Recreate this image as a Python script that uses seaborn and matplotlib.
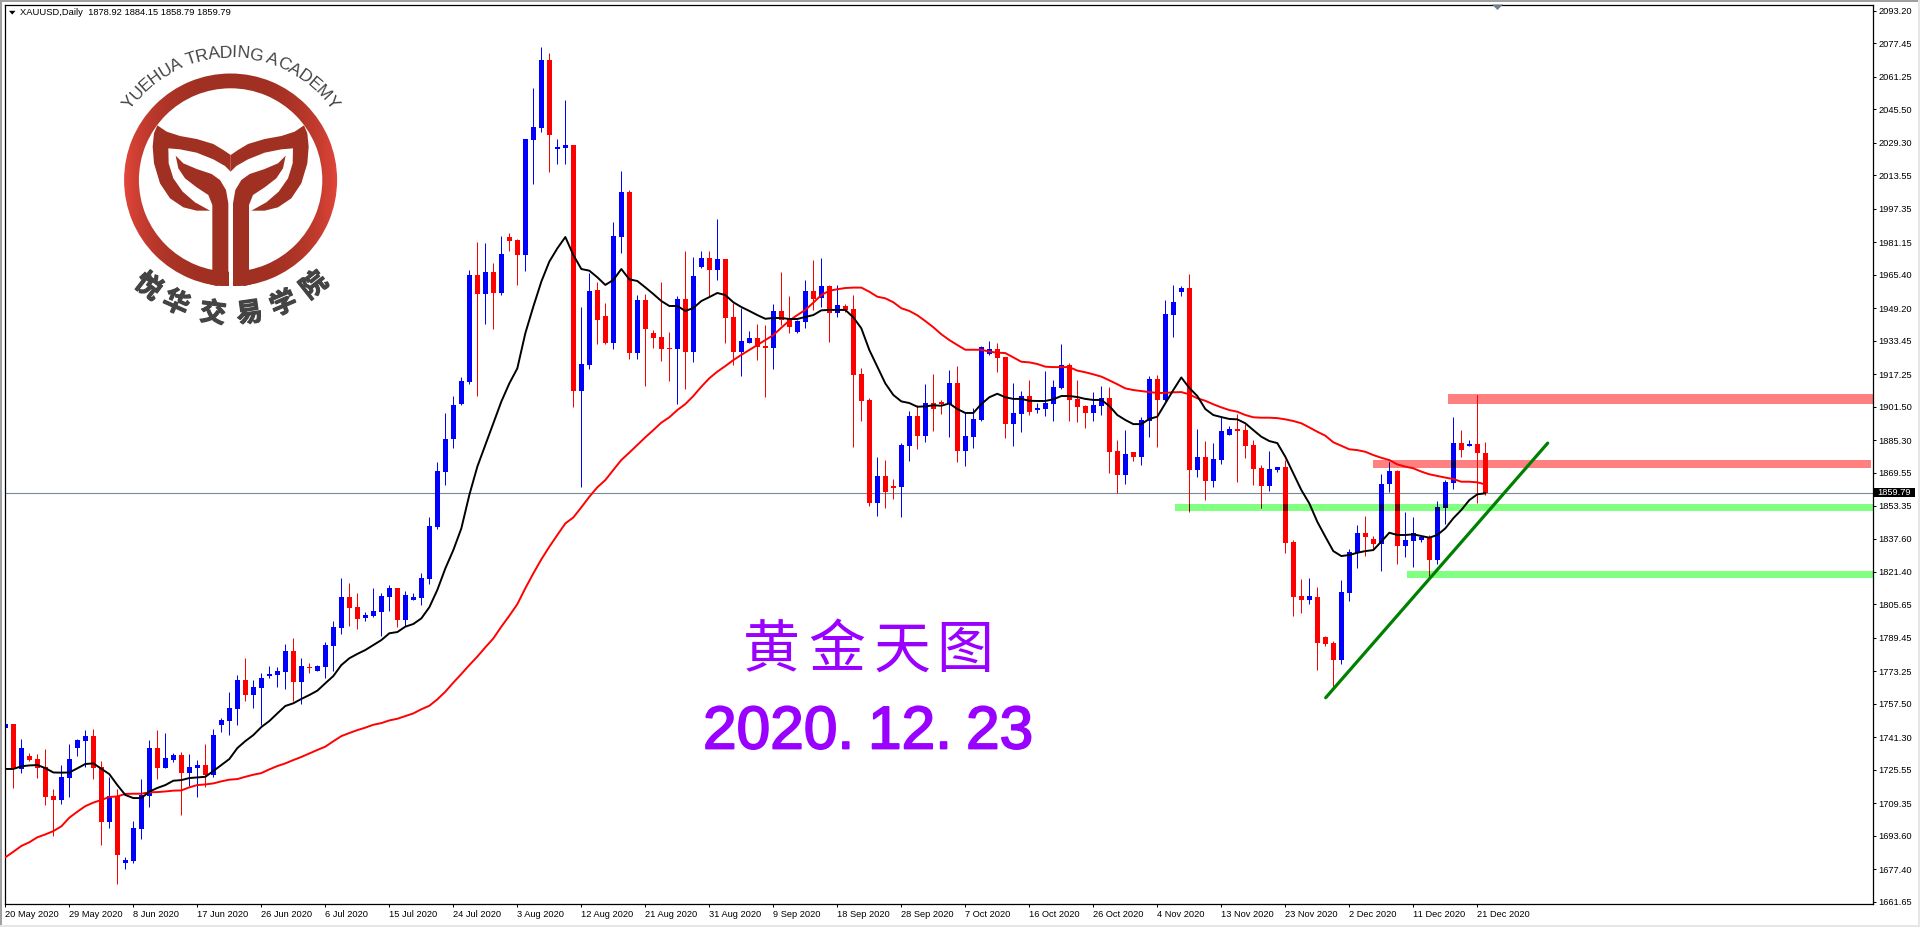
import numpy as np
import pandas as pd
import matplotlib
matplotlib.use("Agg")
import matplotlib.pyplot as plt
import matplotlib.patches as mpatches
import matplotlib.patheffects as pe
from matplotlib.colors import LinearSegmentedColormap
from matplotlib.font_manager import FontProperties
from matplotlib.textpath import text_to_path
import seaborn as sns

opens = [
    1746.0,1747.8,1726.0,1732.3,1730.8,1726.9,1712.9,1711.0,1721.6,1736.1,
    1739.5,1741.9,1726.9,1700.3,1712.9,1680.4,1681.4,1696.9,1712.9,1736.1,
    1726.4,1730.3,1732.7,1724.0,1726.4,1727.9,1723.1,1747.3,1749.2,1755.0,
    1769.1,1761.8,1765.2,1771.0,1771.5,1772.9,1783.1,1768.1,1775.4,1773.4,
    1775.4,1785.5,1794.2,1809.3,1804.4,1799.1,1800.1,1802.0,1809.3,1813.6,
    1798.1,1807.8,1808.8,1818.0,1843.2,1869.8,1885.8,1902.7,1913.2,1965.2,
    1956.0,1966.7,1956.5,1983.6,1982.2,1974.9,2030.6,2036.4,2069.3,2026.4,
    2026.7,2028.2,1909.0,1921.6,1957.9,1945.3,1932.3,1983.6,2005.4,1927.4,
    1953.1,1937.1,1935.2,1929.8,1929.4,1953.6,1927.9,1969.1,1973.4,1967.6,
    1972.9,1944.9,1927.9,1932.3,1934.7,1930.8,1929.8,1947.8,1943.9,1937.6,
    1942.4,1957.5,1954.1,1959.9,1946.8,1950.2,1948.7,1917.3,1904.7,1854.8,
    1867.9,1863.0,1862.5,1882.4,1896.9,1887.2,1903.2,1903.7,1902.7,1912.9,
    1880.0,1886.7,1895.0,1926.9,1929.4,1925.5,1893.0,1897.9,1906.6,1899.8,
    1900.3,1902.7,1910.5,1921.6,1905.2,1901.8,1898.4,1901.8,1905.6,1880.0,
    1868.3,1879.5,1877.1,1894.5,1914.8,1904.7,1945.8,1957.0,1958.9,1870.8,
    1877.1,1865.4,1875.6,1887.7,1890.6,1890.1,1882.9,1871.7,1863.0,1870.8,
    1872.2,1835.9,1809.7,1807.8,1809.3,1789.9,1787.0,1778.7,1811.2,1830.6,
    1840.3,1837.3,1834.9,1864.0,1870.3,1834.0,1836.4,1836.9,1837.8,1827.2,
    1852.4,1864.5,1883.8,1882.4,1883.3,1878.92,
]
highs = [
    1754.0,1747.8,1740.5,1733.7,1733.2,1735.6,1716.3,1727.9,1738.1,1740.5,
    1744.8,1745.3,1729.8,1722.1,1716.3,1683.3,1700.8,1721.1,1740.0,1744.8,
    1743.4,1733.7,1734.2,1733.2,1730.3,1738.1,1745.3,1750.7,1763.3,1771.5,
    1779.7,1769.1,1772.5,1775.8,1775.4,1786.5,1789.4,1779.7,1777.3,1776.3,
    1787.5,1797.6,1818.5,1816.0,1811.2,1802.0,1813.6,1811.2,1815.1,1813.6,
    1812.2,1811.2,1820.9,1848.0,1874.6,1898.4,1906.6,1915.8,1967.6,1981.2,
    1980.7,1971.0,1984.1,1985.5,1982.6,2031.1,2055.8,2075.6,2072.7,2031.1,
    2050.0,2028.2,1949.7,1966.2,1961.8,1951.6,1990.9,2015.6,2006.4,1955.5,
    1956.0,1938.6,1961.8,1937.6,1955.0,1976.8,1973.9,1976.8,1976.8,1992.3,
    1972.9,1951.5,1949.2,1938.1,1941.5,1941.0,1951.2,1966.7,1955.0,1943.4,
    1962.8,1972.5,1973.4,1960.4,1960.4,1951.2,1955.5,1920.2,1905.6,1877.1,
    1875.6,1866.4,1883.8,1899.3,1902.2,1912.4,1917.3,1904.7,1919.2,1921.1,
    1898.9,1900.8,1930.8,1933.2,1932.3,1925.5,1912.9,1909.0,1914.4,1903.2,
    1918.7,1914.4,1931.8,1922.6,1914.4,1902.2,1908.5,1911.4,1911.0,1885.3,
    1890.1,1879.5,1896.4,1916.3,1916.8,1953.1,1960.4,1959.9,1965.7,1890.6,
    1884.8,1883.8,1896.4,1892.1,1897.9,1893.0,1885.3,1873.2,1880.0,1872.2,
    1875.6,1836.9,1818.0,1818.5,1814.1,1790.4,1788.0,1817.5,1832.5,1844.1,
    1848.5,1838.8,1868.8,1874.6,1870.8,1850.4,1848.0,1839.3,1839.3,1855.8,
    1865.9,1896.4,1890.1,1885.3,1907.1,1884.15,
]
lows = [
    1742.1,1716.8,1724.0,1729.8,1721.6,1708.5,1693.5,1709.0,1712.4,1732.3,
    1726.9,1721.1,1689.2,1697.4,1670.3,1677.5,1680.4,1692.1,1707.6,1721.1,
    1726.4,1729.4,1703.7,1717.7,1712.4,1717.2,1722.1,1743.9,1742.4,1747.3,
    1758.9,1755.5,1747.3,1770.0,1765.7,1764.7,1758.9,1757.4,1772.5,1773.4,
    1770.0,1773.4,1791.3,1795.2,1793.8,1797.6,1799.6,1790.4,1802.5,1794.7,
    1795.2,1807.8,1805.4,1815.6,1842.2,1863.5,1881.4,1902.2,1912.4,1906.6,
    1941.5,1939.0,1955.5,1976.8,1960.4,1967.1,2009.3,2034.5,2015.1,2019.0,
    2019.0,1901.3,1862.5,1919.7,1931.8,1931.8,1929.4,1975.9,1924.5,1924.5,
    1911.4,1929.8,1923.5,1913.9,1902.7,1910.0,1923.1,1968.6,1954.7,1962.8,
    1932.3,1921.6,1916.3,1932.3,1924.0,1906.1,1919.7,1941.0,1937.1,1937.1,
    1939.5,1948.3,1949.7,1932.8,1944.9,1947.4,1881.9,1894.5,1853.3,1848.5,
    1852.4,1856.7,1848.0,1875.1,1880.9,1884.3,1889.7,1897.9,1886.7,1874.6,
    1872.7,1881.4,1894.5,1926.5,1918.2,1886.3,1882.4,1889.2,1897.4,1898.4,
    1896.9,1894.5,1910.0,1894.5,1894.0,1891.1,1894.5,1897.4,1869.3,1859.6,
    1864.0,1875.1,1873.2,1886.7,1881.9,1904.2,1935.2,1955.0,1850.4,1867.4,
    1856.2,1862.5,1873.7,1887.7,1865.0,1876.6,1863.5,1852.4,1860.6,1869.8,
    1830.6,1800.1,1801.5,1805.9,1773.9,1785.5,1764.2,1776.8,1807.3,1823.3,
    1829.1,1832.5,1821.9,1860.1,1825.2,1828.6,1823.8,1835.9,1819.4,1825.2,
    1844.6,1861.6,1877.1,1882.4,1854.8,1858.79,
]
closes = [
    1747.8,1726.0,1736.1,1730.3,1726.4,1712.4,1711.0,1722.1,1730.8,1740.0,
    1741.9,1726.4,1700.3,1712.9,1684.3,1681.9,1697.4,1713.4,1736.1,1726.4,
    1731.3,1732.7,1724.0,1726.9,1727.9,1723.1,1742.4,1749.7,1755.5,1769.1,
    1761.8,1765.7,1770.0,1772.0,1773.4,1783.1,1768.1,1775.8,1775.0,1775.8,
    1786.0,1794.7,1809.3,1803.9,1798.6,1800.5,1802.5,1809.7,1813.6,1798.1,
    1810.2,1809.3,1818.5,1843.6,1870.3,1885.8,1902.2,1913.9,1965.2,1956.0,
    1966.7,1956.5,1975.4,1981.7,1974.9,2031.1,2036.9,2069.3,2033.0,2027.2,
    2028.2,1909.0,1922.1,1957.5,1943.4,1932.3,1984.1,2005.4,1927.4,1953.1,
    1939.0,1934.7,1929.4,1929.4,1953.6,1927.9,1964.7,1973.4,1967.6,1972.9,
    1944.4,1927.9,1933.2,1934.7,1930.3,1929.8,1947.8,1943.4,1940.0,1942.9,
    1957.5,1953.6,1959.9,1946.8,1950.7,1948.3,1916.8,1904.2,1854.8,1867.9,
    1860.1,1862.0,1882.9,1896.9,1887.2,1903.2,1900.3,1902.7,1912.9,1880.0,
    1887.2,1895.5,1930.3,1929.4,1925.0,1893.0,1898.4,1906.6,1898.9,1900.8,
    1903.2,1911.0,1921.6,1904.7,1901.3,1898.4,1902.2,1905.6,1879.5,1868.3,
    1878.5,1877.1,1895.0,1914.8,1904.7,1946.3,1952.1,1958.9,1870.8,1877.1,
    1865.4,1876.1,1889.7,1890.6,1889.6,1882.4,1871.2,1863.0,1871.2,1872.2,
    1835.4,1809.3,1807.8,1809.7,1787.0,1786.5,1778.7,1811.7,1831.0,1840.3,
    1838.3,1834.9,1864.0,1870.3,1834.0,1836.9,1840.3,1838.3,1827.2,1852.8,
    1865.0,1883.8,1880.4,1883.3,1879.0,1859.79,
]
ma_fast = [
    1726.0,1726.0,1727.3,1727.7,1727.9,1726.4,1724.3,1724.2,1724.3,1726.3,
    1728.4,1728.7,1726.1,1723.5,1718.2,1713.4,1711.9,1711.9,1715.0,1716.8,
    1718.2,1720.3,1720.6,1721.6,1721.9,1722.2,1725.0,1727.9,1730.8,1736.1,
    1739.5,1742.4,1746.3,1749.2,1752.9,1756.5,1757.8,1759.9,1761.8,1763.9,
    1767.5,1771.0,1776.3,1779.6,1781.7,1783.6,1786.0,1788.4,1791.7,1792.3,
    1794.9,1796.2,1798.9,1804.3,1812.7,1823.1,1832.0,1842.5,1858.7,1872.4,
    1882.9,1893.4,1903.9,1912.7,1920.0,1937.0,1949.9,1962.0,1971.7,1978.1,
    1983.6,1974.9,1968.1,1967.3,1964.1,1960.4,1962.8,1968.1,1963.1,1962.3,
    1959.2,1956.0,1952.6,1950.2,1950.2,1947.8,1949.2,1952.6,1954.5,1956.5,
    1955.5,1952.0,1949.7,1947.8,1945.8,1944.0,1944.4,1944.4,1943.9,1943.9,
    1944.9,1945.8,1948.1,1948.3,1948.3,1948.3,1944.7,1939.4,1928.9,1920.8,
    1912.7,1907.1,1904.0,1903.2,1901.4,1901.6,1902.1,1901.9,1903.0,1900.3,
    1898.4,1898.4,1902.7,1906.0,1907.7,1906.0,1905.2,1905.2,1904.3,1904.2,
    1904.2,1905.0,1906.6,1906.6,1906.1,1905.2,1904.7,1904.7,1901.8,1897.4,
    1895.0,1893.0,1893.0,1895.5,1896.6,1903.0,1909.5,1915.6,1910.5,1906.6,
    1900.3,1897.4,1896.4,1895.5,1895.3,1893.4,1890.1,1886.9,1884.8,1883.8,
    1877.2,1869.1,1861.1,1854.6,1845.7,1838.5,1831.5,1829.1,1829.6,1830.7,
    1831.5,1832.0,1836.1,1840.4,1839.3,1839.3,1839.6,1838.8,1838.0,1839.3,
    1842.5,1847.4,1851.4,1856.2,1859.0,1859.5,
]
ma_slow = [
    1683.2,1685.9,1688.7,1690.5,1692.9,1694.3,1695.9,1698.2,1702.4,1705.3,
    1708.0,1709.7,1711.0,1712.4,1712.7,1713.9,1714.0,1714.0,1714.7,1714.8,
    1715.1,1715.5,1715.6,1717.1,1718.2,1718.5,1719.0,1720.0,1720.8,1721.1,
    1722.2,1723.2,1724.0,1725.8,1727.4,1728.7,1730.3,1731.8,1733.5,1735.2,
    1736.8,1739.4,1741.9,1743.4,1744.8,1746.0,1747.4,1748.2,1749.5,1750.3,
    1751.6,1752.9,1754.9,1756.6,1759.7,1763.4,1767.8,1772.0,1776.3,1780.4,
    1784.9,1789.2,1794.9,1800.2,1805.8,1813.5,1820.7,1827.5,1833.6,1839.3,
    1844.9,1847.8,1852.7,1857.8,1862.4,1865.9,1870.8,1875.6,1879.2,1882.9,
    1886.6,1890.1,1893.7,1896.3,1899.8,1902.7,1906.6,1911.1,1915.2,1918.4,
    1921.1,1924.0,1926.5,1928.9,1931.3,1933.7,1936.1,1939.7,1943.1,1945.8,
    1948.3,1951.8,1955.5,1957.6,1958.3,1958.9,1959.1,1959.1,1957.1,1954.7,
    1953.9,1952.0,1949.1,1947.8,1945.7,1942.9,1939.9,1936.5,1933.7,1931.3,
    1929.0,1929.0,1929.0,1928.1,1927.6,1927.4,1925.3,1923.2,1922.9,1922.1,
    1920.8,1920.6,1920.6,1920.6,1918.9,1918.1,1917.1,1916.0,1914.2,1912.3,
    1910.3,1909.5,1909.0,1908.5,1908.1,1908.1,1908.4,1908.5,1907.4,1905.5,
    1904.3,1902.6,1901.1,1899.8,1899.0,1897.4,1896.3,1896.1,1896.1,1895.9,
    1895.3,1894.5,1893.4,1891.4,1889.3,1887.4,1884.2,1882.5,1880.8,1880.4,
    1879.6,1878.0,1876.7,1875.6,1873.5,1872.4,1871.6,1870.0,1868.7,1867.9,
    1867.1,1866.4,1865.1,1865.1,1864.8,1863.8,
]

date_labels = [
    "20 May 2020", "29 May 2020", "8 Jun 2020", "17 Jun 2020", "26 Jun 2020",
    "6 Jul 2020", "15 Jul 2020", "24 Jul 2020", "3 Aug 2020", "12 Aug 2020",
    "21 Aug 2020", "31 Aug 2020", "9 Sep 2020", "18 Sep 2020", "28 Sep 2020",
    "7 Oct 2020", "16 Oct 2020", "26 Oct 2020", "4 Nov 2020", "13 Nov 2020",
    "23 Nov 2020", "2 Dec 2020", "11 Dec 2020", "21 Dec 2020",
]
price_ticks = [
    2093.20, 2077.45, 2061.25, 2045.50, 2029.30, 2013.55, 1997.35, 1981.15,
    1965.40, 1949.20, 1933.45, 1917.25, 1901.50, 1885.30, 1869.55, 1853.35,
    1837.60, 1821.40, 1805.65, 1789.45, 1773.25, 1757.50, 1741.30, 1725.55,
    1709.35, 1693.60, 1677.40, 1661.65,
]
last_price = 1859.79

# support / resistance boxes: bar start, bar end, low, high
zone_start = [180.3, 171.0, 146.2, 175.2]
zone_end = [233.6, 233.2, 233.4, 233.6]
zone_low = [1902.7, 1871.7, 1850.9, 1818.5]
zone_high = [1907.6, 1875.6, 1854.3, 1821.8]
zone_kind = ["red", "red", "green", "green"]

trend_x = [165.05, 192.8]
trend_y = [1760.5, 1883.8]

BLUE = "#0000ff"
RED = "#ff0000"
ZONE_COLORS = {"red": "#ff8080", "green": "#80ff80"}
# the boxes multiply with the candles under them
BLEND = {
    "red": {"up": "#000080", "down": "#ff0000"},
    "green": {"up": "#000080", "down": "#800000"},
}
TICK_FONT = "Liberation Sans"
PURPLE = "#9900ff"
LOGO_DARK = "#a03022"
LOGO_GREY = "#444444"

df = pd.DataFrame({
    "bar": np.arange(len(closes)),
    "open": opens, "high": highs, "low": lows, "close": closes,
    "fast": ma_fast, "slow": ma_slow,
})
df["up"] = df["close"] >= df["open"]


def draw_candles(ax, data, up_color, down_color, zorder):
    colors = np.where(data["up"], up_color, down_color)
    wicks = ax.vlines(data["bar"], data["low"], data["high"], colors=colors,
                      linewidth=0.72, zorder=zorder)
    bottoms = data[["open", "close"]].min(axis=1)
    heights = (data["open"] - data["close"]).abs()
    bodies = ax.bar(data["bar"], heights, bottom=bottoms, width=0.6,
                    color=colors, linewidth=0, zorder=zorder + 0.1,
                    antialiased=False)
    return wicks, bodies


sns.set_theme(style="white")
plt.rcParams["font.family"] = [TICK_FONT, "DejaVu Sans"]

fig = plt.figure(figsize=(19.2, 9.27), dpi=100, facecolor="white")
ax = fig.add_axes([4.7 / 1920, (927 - 904) / 927, (1872.5 - 4.7) / 1920, 899.5 / 927])

for x0, x1, lo, hi, kind in zip(zone_start, zone_end, zone_low, zone_high, zone_kind):
    ax.add_patch(mpatches.Rectangle((x0, lo), x1 - x0, hi - lo, facecolor=ZONE_COLORS[kind],
                                    edgecolor="none", zorder=1, clip_on=False))

ax.axhline(last_price, color="#778899", linewidth=0.8, zorder=1.5)
draw_candles(ax, df, BLUE, RED, 2)

for x0, x1, lo, hi, kind in zip(zone_start, zone_end, zone_low, zone_high, zone_kind):
    clip = mpatches.Rectangle((x0, lo), x1 - x0, hi - lo, transform=ax.transData)
    part = df[(df["bar"] >= x0 - 1) & (df["bar"] <= x1 + 1) & (df["high"] >= lo) & (df["low"] <= hi)]
    wicks, bodies = draw_candles(ax, part, BLEND[kind]["up"], BLEND[kind]["down"], 3)
    wicks.set_clip_path(clip)
    for body in bodies:
        body.set_clip_path(clip)

sns.lineplot(data=df, x="bar", y="slow", color=RED, linewidth=1.4, estimator=None,
             ax=ax, zorder=4)
sns.lineplot(data=df, x="bar", y="fast", color="black", linewidth=1.4, estimator=None,
             ax=ax, zorder=4.5)
sns.lineplot(x=trend_x, y=trend_y, color="#008000", linewidth=2.3, estimator=None,
             ax=ax, zorder=5)

ax.set_xlim(-0.08, 233.4)
ax.set_ylim(1660.6, 2096.2)
ax.set_xlabel("")
ax.set_ylabel("")
ax.yaxis.tick_right()
ax.set_yticks(price_ticks)
ax.set_yticklabels([f"{p:.2f}" for p in price_ticks])
ax.set_xticks(np.arange(len(date_labels)) * 8)
ax.set_xticklabels(date_labels, ha="left")
ax.tick_params(axis="y", right=True, length=2.2, width=0.72, pad=2.0, labelsize=6.7,
               color="black", labelcolor="black")
ax.tick_params(axis="x", bottom=True, length=2.2, width=0.72, pad=2.2, labelsize=6.7,
               color="black", labelcolor="black")
for spine in ax.spines.values():
    spine.set_visible(True)
    spine.set_color("black")
    spine.set_linewidth(0.9)

# overlay in screen pixels for window chrome, watermark, and captions
ov = fig.add_axes([0, 0, 1, 1], zorder=5)
ov.patch.set_alpha(0)
ov.axis("off")

ov.add_patch(mpatches.Rectangle((0, 0), 1920, 2, facecolor="#a0a0a0", edgecolor="none"))
ov.add_patch(mpatches.Rectangle((0, 0), 1.6, 927, facecolor="#a0a0a0", edgecolor="none"))
ov.add_patch(mpatches.Rectangle((0, 925), 1920, 2, facecolor="#e6e6e6", edgecolor="none"))
ov.add_patch(mpatches.Rectangle((1918, 0), 2, 927, facecolor="#e6e6e6", edgecolor="none"))

ov.fill([1492, 1503, 1497.5], [4.5, 4.5, 10], color="#708090", linewidth=0)
ov.fill([9, 15.5, 12.2], [10.8, 10.8, 14.6], color="black", linewidth=0)
ov.text(19.7, 12.6, "XAUUSD,Daily  1878.92 1884.15 1858.79 1859.79", fontsize=6.75,
        color="black", va="center", ha="left")

ov.add_patch(mpatches.Rectangle((1874, 487.7), 41, 9.6, facecolor="black", edgecolor="none"))
ov.text(1894.5, 492.6, f"{last_price:.2f}", fontsize=6.7, color="white", va="center", ha="center")

# logo: ring with a horizontal gradient
cx, cy = 230.6, 180.0
ring = mpatches.Wedge((cx, cy), 106.5, 0, 360, width=14.8, facecolor="none", edgecolor="none")
ov.add_patch(ring)
shade = np.abs(np.linspace(-1, 1, 256)) ** 3
ring_cmap = LinearSegmentedColormap.from_list("ring", [LOGO_DARK, "#e2463a"])
img = ov.imshow(shade[np.newaxis, :], cmap=ring_cmap, vmin=0, vmax=1, aspect="auto",
                extent=(cx - 106.5, cx + 106.5, cy + 106.5, cy - 106.5), zorder=1)
img.set_clip_path(ring)

band = [(472, 376), (500, 395), (540, 408), (590, 417), (640, 432), (670, 450), (692, 465),
        (692, 515), (675, 498), (640, 478), (590, 458), (540, 448), (505, 445), (506, 490),
        (520, 535), (548, 575), (585, 607), (630, 632), (590, 632), (550, 622), (510, 595),
        (480, 550), (462, 490), (458, 440), (462, 400)]
stem = [(527, 467), (550, 490), (590, 507), (635, 522), (660, 540), (678, 570), (685, 610),
        (685, 835), (672, 852), (650, 858), (620, 850), (637, 810), (637, 615), (625, 585),
        (590, 562), (555, 535), (535, 505)]
ov.add_patch(mpatches.Rectangle((228.5, 190), 4.6, 100, facecolor="white", edgecolor="none", zorder=1.5))
for shape in (band, stem):
    pts = np.array(shape, dtype=float) / 3
    ov.fill(pts[:, 0], pts[:, 1], color=LOGO_DARK, linewidth=0, zorder=2)
    ov.fill(2 * 692 / 3 - pts[:, 0], pts[:, 1], color=LOGO_DARK, linewidth=0, zorder=2)

arc_text = "YUEHUA TRADING ACADEMY"
arc_prop = FontProperties(family="Liberation Sans", size=12.6)
widths = [text_to_path.get_text_width_height_descent(ch, arc_prop, ismath=False)[0] for ch in arc_text]
centers = np.cumsum(widths) - np.array(widths) / 2
angles = -52.5 + 105 * (centers - centers[0]) / (centers[-1] - centers[0])
for ch, ang in zip(arc_text, angles):
    a = np.radians(ang)
    ov.text(cx + 127 * np.sin(a), cy - 127 * np.cos(a), ch, fontproperties=arc_prop, color=LOGO_GREY,
            rotation=-ang, rotation_mode="anchor", ha="center", va="center")

for ch, ang in zip("悦华交易学院", [-37.7, -23.9, -7.6, 8.1, 23.2, 38.4]):
    a = np.radians(ang)
    ov.text(cx + 135 * np.sin(a), cy + 135 * np.cos(a), ch, family="Noto Sans CJK SC", weight="bold",
            fontsize=19, color=LOGO_GREY, rotation=ang, rotation_mode="anchor", ha="center", va="center",
            path_effects=[pe.withStroke(linewidth=0.8, foreground=LOGO_GREY)])

for ch, x in zip("黄金天图", [771, 837, 902, 965]):
    ov.text(x, 651, ch, family="Noto Sans CJK SC", fontsize=41, color=PURPLE,
            ha="center", va="center")

date_font = dict(family="Liberation Sans", fontsize=43.5, color=PURPLE, va="center", ha="left",
                 path_effects=[pe.withStroke(linewidth=1.3, foreground=PURPLE)])
for chunk, x in zip(["2020.", "12.", "23"], [703, 868, 966]):
    ov.text(x, 733, chunk, **date_font)

ov.set_xlim(0, 1920)
ov.set_ylim(927, 0)

fig.savefig("out.png", dpi=100)
